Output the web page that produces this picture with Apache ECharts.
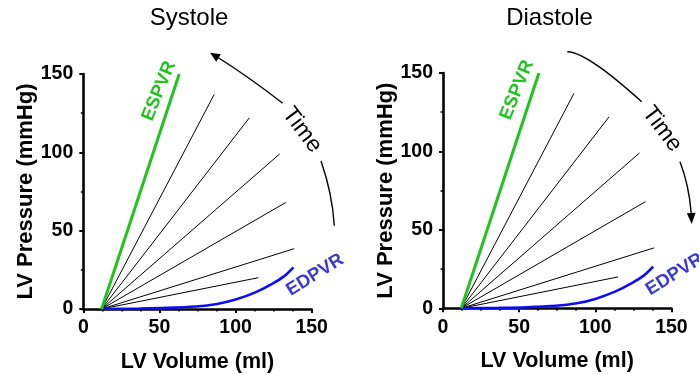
<!DOCTYPE html>
<html>
<head>
<meta charset="utf-8">
<script src="https://cdn.jsdelivr.net/npm/echarts@6/dist/echarts.min.js"></script>
<style>
  html, body { margin: 0; padding: 0; background: #fff; }
  #chart { width: 699px; height: 375px; }
</style>
</head>
<body>
<div id="chart"></div>
<script>
// Pressure-volume relations of the left ventricle: systolic and diastolic panels
const panelTitles = ['Systole', 'Diastole'];
const axisTicks = [0, 50, 100, 150];

// Common volume intercept of all relations (ml)
const originVolume = 12;

// End-systolic pressure-volume relation
const espvrVolume = [12, 63];
const espvrPressure = [0, 150];

// Intermediate time-varying elastance lines (end points)
const isoEndVolume = [86, 109, 129, 133, 138.5, 115];
const isoEndPressure = [137, 122, 99, 68, 38.5, 20];

// End-diastolic pressure-volume relation
const edpvrVolume = [12, 37, 55, 74, 87, 100, 113, 124, 132, 138];
const edpvrPressure = [0, 0.3, 0.7, 1.6, 3, 6, 10.6, 16, 21, 26.6];

const FONT = '"Liberation Sans", Arial, Helvetica, sans-serif';
const GREEN = '#1fc41f';
const BLUE = '#0d0df2';
const BLUE_TXT = '#3a3ad0';

// Fixed plot rectangles; labels are allowed to sit outside them
const grids = [
  { left: 83.3, top: 74, width: 228.4, height: 235, outerBoundsMode: 'none', containLabel: false },
  { left: 443, top: 73, width: 228.4, height: 235.3, outerBoundsMode: 'none', containLabel: false }
];

function makeXAxis(i) {
  return {
    gridIndex: i, type: 'value', min: 0, max: 150, interval: 50,
    name: 'LV Volume (ml)', nameLocation: 'middle', nameGap: 42,
    nameTextStyle: { fontFamily: FONT, fontWeight: 'bold', fontSize: 21.5, color: '#000' },
    axisLine: { show: true, onZero: false, lineStyle: { color: '#000', width: 2.6 } },
    axisTick: { show: true, inside: false, length: 4, lineStyle: { color: '#000', width: 2 } },
    minorTick: { show: true, splitNumber: 4, length: 2.5, lineStyle: { color: '#000', width: 1.5 } },
    axisLabel: { fontFamily: FONT, fontWeight: 'bold', fontSize: 19.5, color: '#000', margin: 9,
      formatter: v => axisTicks.includes(v) ? String(v) : '' },
    splitLine: { show: false }
  };
}

function makeYAxis(i) {
  return {
    gridIndex: i, type: 'value', min: 0, max: 150, interval: 50,
    name: 'LV Pressure (mmHg)', nameLocation: 'middle', nameGap: 44, nameRotate: 90,
    nameTextStyle: { fontFamily: FONT, fontWeight: 'bold', fontSize: 22, color: '#000' },
    axisLine: { show: true, onZero: false, lineStyle: { color: '#000', width: 2.6 } },
    axisTick: { show: true, inside: false, length: 4, lineStyle: { color: '#000', width: 2 } },
    minorTick: { show: true, splitNumber: 2, length: 2.5, lineStyle: { color: '#000', width: 1.5 } },
    axisLabel: { fontFamily: FONT, fontWeight: 'bold', fontSize: 19.5, color: '#000', margin: 10,
      formatter: v => axisTicks.includes(v) ? String(v) : '' },
    splitLine: { show: false }
  };
}

function panelSeries(i) {
  const out = [];
  isoEndVolume.forEach((v, k) => {
    out.push({
      type: 'line', xAxisIndex: i, yAxisIndex: i, symbol: 'none', silent: true,
      lineStyle: { color: '#000', width: 1 },
      data: [[originVolume, 0], [v, isoEndPressure[k]]]
    });
  });
  out.push({
    type: 'line', xAxisIndex: i, yAxisIndex: i, symbol: 'none', silent: true,
    smooth: 0.3, lineStyle: { color: BLUE, width: 2.6 },
    data: edpvrVolume.map((v, k) => [v, edpvrPressure[k]])
  });
  out.push({
    type: 'line', xAxisIndex: i, yAxisIndex: i, symbol: 'none', silent: true,
    lineStyle: { color: GREEN, width: 3 },
    data: espvrVolume.map((v, k) => [v, espvrPressure[k]])
  });
  return out;
}

function label(text, x, y, deg, size, weight, color) {
  return {
    type: 'text', x: x, y: y, rotation: deg * Math.PI / 180, z: 10,
    style: { text: text, x: 0, y: 0, align: 'center', verticalAlign: 'middle',
      font: weight + ' ' + size + 'px ' + FONT, fill: color }
  };
}

function arrowHead(tx, ty, fromX, fromY, len, half) {
  const dx = tx - fromX, dy = ty - fromY;
  const d = Math.sqrt(dx * dx + dy * dy);
  const ux = dx / d, uy = dy / d;
  const bx = tx - ux * len, by = ty - uy * len;
  return {
    type: 'polygon', z: 10,
    shape: { points: [[tx, ty], [bx - uy * half, by + ux * half], [bx + uy * half, by - ux * half]] },
    style: { fill: '#000' }
  };
}

const curveStyle = { stroke: '#000', lineWidth: 1.4, fill: null };

const graphics = [
  label(panelTitles[0], 189, 18, 0, 24, 'normal', '#000'),
  label(panelTitles[1], 549.5, 18, 0, 24, 'normal', '#000'),
  // Systole panel annotations
  label('ESPVR', 159, 91, 68, 18.5, 'bold', GREEN),
  label('EDPVR', 315, 275, 32, 18.5, 'bold', BLUE_TXT),
  label('Time', 302, 130, -53, 23, 'normal', '#000'),
  { type: 'bezierCurve', z: 10, shape: { x1: 334.3, y1: 225.7, x2: 321, y2: 161, cpx1: 332.3, cpy1: 193.3 }, style: curveStyle },
  { type: 'bezierCurve', z: 10, shape: { x1: 282.7, y1: 103.3, x2: 218, y2: 57.5, cpx1: 249, cpy1: 77 }, style: curveStyle },
  arrowHead(210, 52.7, 249, 77, 10, 4.3),
  // Diastole panel annotations
  label('ESPVR', 517, 90, 68, 18.5, 'bold', GREEN),
  label('EDPVR', 674.5, 274.5, 32, 18.5, 'bold', BLUE_TXT),
  label('Time', 662, 129, -53, 23, 'normal', '#000'),
  { type: 'bezierCurve', z: 10, shape: { x1: 567.3, y1: 51.7, x2: 641.7, y2: 101.7, cpx1: 584, cpy1: 52, cpx2: 615, cpy2: 78 }, style: curveStyle },
  { type: 'bezierCurve', z: 10, shape: { x1: 680, y1: 161.7, x2: 691.2, y2: 213, cpx1: 689, cpy1: 185 }, style: curveStyle },
  arrowHead(691.7, 224, 690.6, 200, 11, 4.4)
];

const chart = echarts.init(document.getElementById('chart'), null, { renderer: 'canvas' });
chart.setOption({
  animation: false,
  backgroundColor: '#fff',
  grid: grids,
  xAxis: [makeXAxis(0), makeXAxis(1)],
  yAxis: [makeYAxis(0), makeYAxis(1)],
  series: panelSeries(0).concat(panelSeries(1)),
  graphic: graphics
});
</script>
</body>
</html>
